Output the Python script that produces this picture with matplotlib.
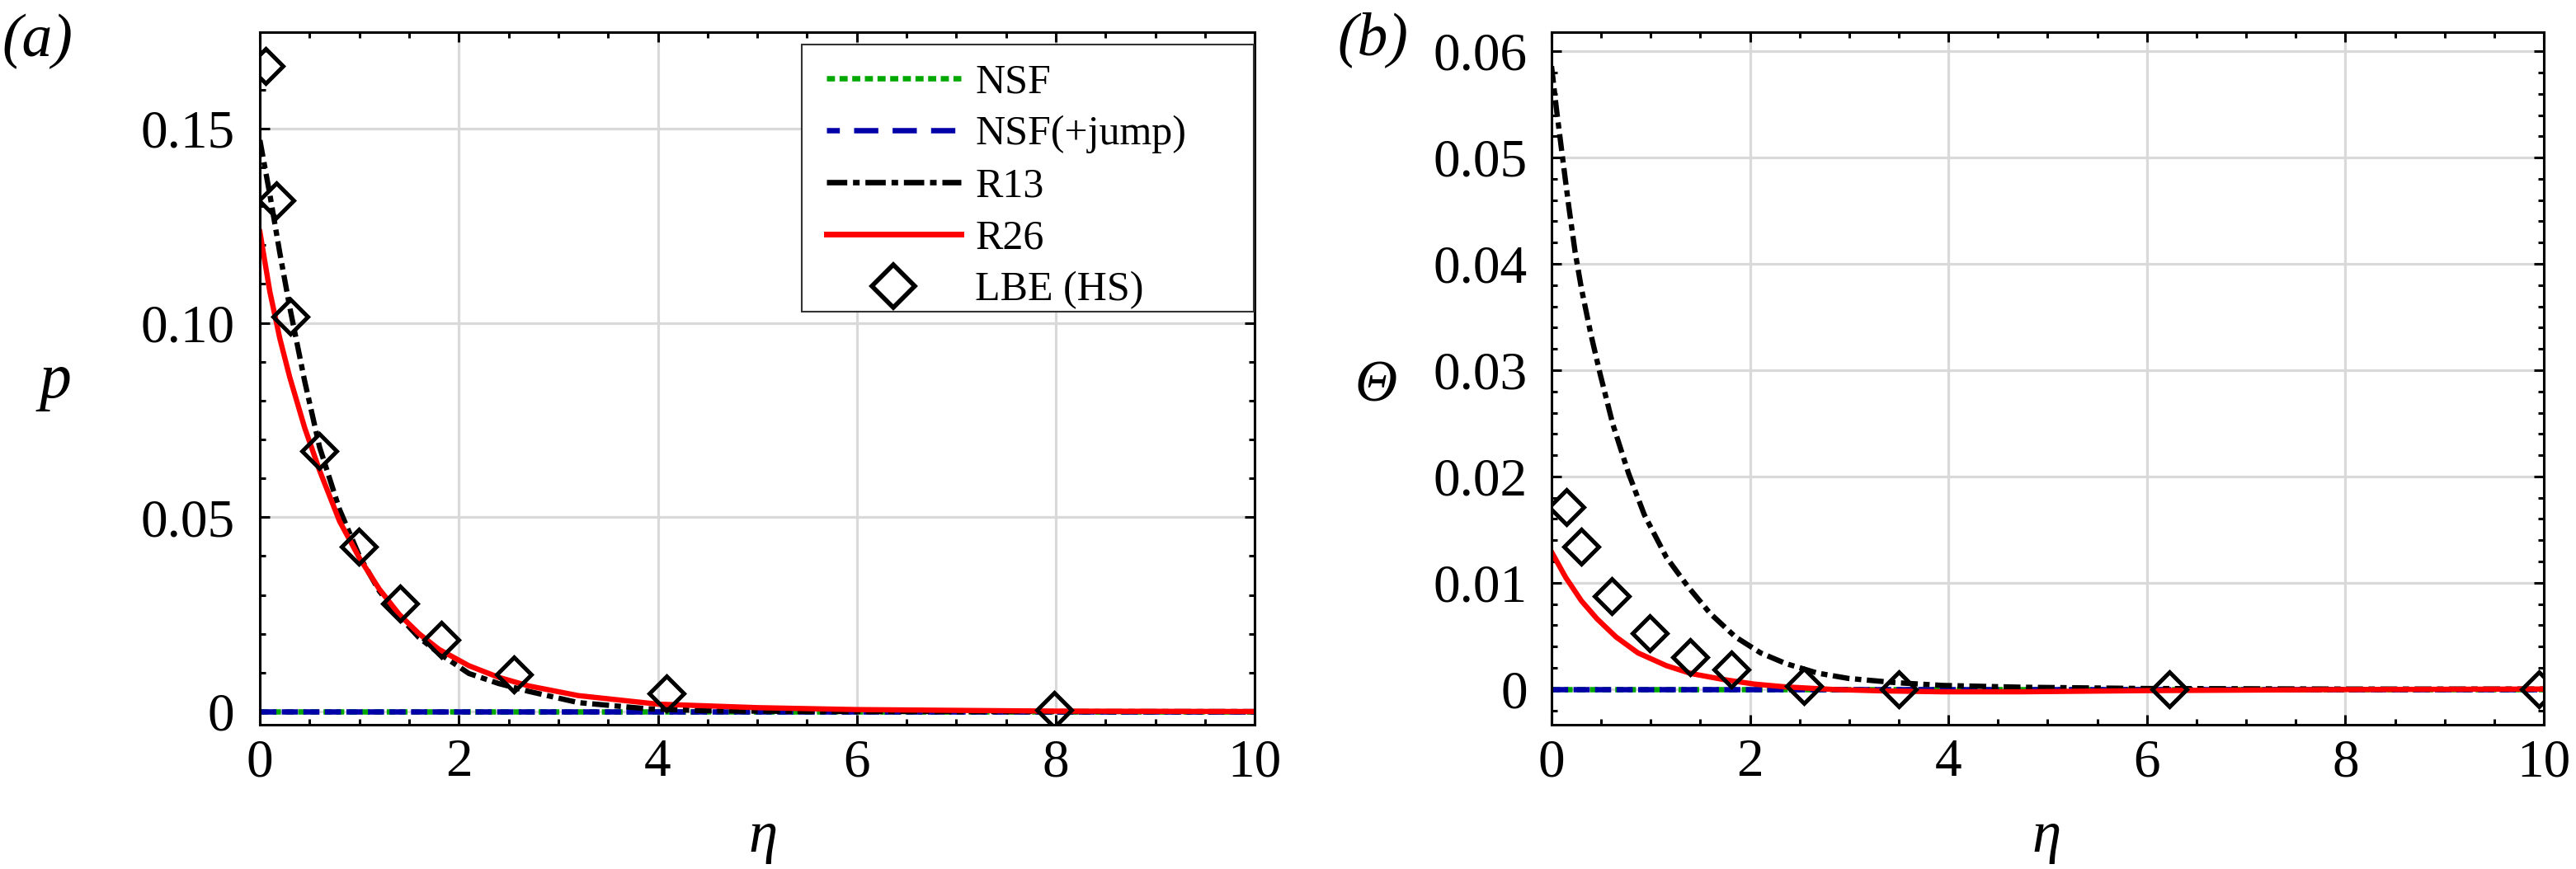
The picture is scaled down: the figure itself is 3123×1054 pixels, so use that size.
import matplotlib
matplotlib.use('Agg')
import matplotlib.pyplot as plt
from matplotlib.ticker import MultipleLocator, FuncFormatter
from matplotlib.patches import Rectangle
from matplotlib.lines import Line2D
from matplotlib.legend_handler import HandlerLine2D

plt.rcParams['font.family'] = ['Liberation Serif', 'DejaVu Serif']

# ---------------- data ----------------
# zero-valued NSF solutions
nsf_eta = [0, 10]
nsf_val = [0, 0]

# (a) pressure p
r13_eta_a = [0, 0.1, 0.2, 0.3, 0.45, 0.6, 0.8, 1.0, 1.2, 1.4, 1.6, 1.8, 2.1, 2.4, 2.7, 3.2, 3.9, 4.5, 5.5, 10]
r13_p_a = [0.147, 0.133, 0.118, 0.104, 0.085, 0.068, 0.052, 0.040, 0.031, 0.0245, 0.019, 0.0150,
           0.0098, 0.0072, 0.0052, 0.0023, 0.0007, 0.0002, 0.0, 0.0]
r26_eta_a = [0, 0.1, 0.2, 0.3, 0.45, 0.6, 0.8, 1.0, 1.2, 1.4, 1.6, 1.8, 2.1, 2.4, 2.7, 3.2, 4.0, 5.0, 6.0, 7.0, 8.0, 10]
r26_p_a = [0.1234, 0.108, 0.096, 0.086, 0.073, 0.062, 0.049, 0.0395, 0.0315, 0.0250, 0.020, 0.0160,
           0.0118, 0.0088, 0.0066, 0.0041, 0.0019, 0.0010, 0.0005, 0.0003, 0.0001, 0.0]
lbe_eta_a = [0.055, 0.163, 0.31, 0.60, 0.99, 1.41, 1.82, 2.55, 4.09, 7.98]
lbe_p_a = [0.1661, 0.1316, 0.1016, 0.0671, 0.0424, 0.0278, 0.0185, 0.0096, 0.0047, 0.0004]

# (b) temperature Theta
r13_eta_b = [0, 0.048, 0.111, 0.174, 0.238, 0.301, 0.396, 0.491, 0.618, 0.776, 0.935, 1.157, 1.378,
             1.60, 1.854, 2.107, 2.36, 2.68, 2.99, 3.47, 3.94, 4.74, 6.0, 8.0, 10]
r13_t_b = [0.0586, 0.0547, 0.0500, 0.0454, 0.0411, 0.0377, 0.0334, 0.0296, 0.0249, 0.0203, 0.0164,
           0.0124, 0.0096, 0.0071, 0.0049, 0.0034, 0.0024, 0.0015, 0.0010, 0.0006, 0.00034, 0.00017,
           0.00005, 0.0, 0.0]
r26_eta_b = [0, 0.143, 0.301, 0.459, 0.65, 0.871, 1.157, 1.41, 1.73, 2.04, 2.36, 2.84, 3.31, 3.94,
             4.74, 6.0, 8.0, 10]
r26_t_b = [0.0129, 0.0105, 0.0083, 0.0066, 0.0049, 0.0034, 0.0022, 0.00145, 0.0009, 0.00047, 0.0002,
           -0.00004, -0.00017, -0.00026, -0.00026, -0.00015, -0.00005, 0.0]
lbe_eta_b = [0.15, 0.301, 0.608, 0.989, 1.40, 1.81, 2.54, 3.50, 6.23, 9.95]
lbe_t_b = [0.01715, 0.0134, 0.00872, 0.00523, 0.00302, 0.00187, 0.00026, 0.0, 0.0, 0.0]

x_ticks = [0, 2, 4, 6, 8, 10]
labels = ['NSF', 'NSF(+jump)', 'R13', 'R26', 'LBE (HS)']

# ---------------- styles ----------------
GREEN = '#00a800'
BLUE = '#0000a8'
RED = '#ff0000'
MS = 21.5
MEW = 3.6

fig = plt.figure(figsize=(31.23, 10.54), dpi=100)
axL = fig.add_axes([0.1009, 0.1660, 0.3862, 0.7970])
axR = fig.add_axes([0.6023, 0.1660, 0.3852, 0.7970])

TICK_FS = 47


def fmt(v, pos):
    if abs(v) < 1e-12:
        return '0'
    return f'{v:.2f}'


def style(ax, ymaj, ymin, ylim, ypad):
    ax.set_xlim(0, 10)
    ax.set_ylim(*ylim)
    ax.set_xticks(x_ticks)
    ax.xaxis.set_minor_locator(MultipleLocator(0.5))
    ax.yaxis.set_major_locator(MultipleLocator(ymaj))
    ax.yaxis.set_minor_locator(MultipleLocator(ymin))
    ax.yaxis.set_major_formatter(FuncFormatter(fmt))
    ax.tick_params(which='both', direction='in', top=True, right=True, width=2.2, colors='black')
    ax.tick_params(which='major', length=8.6)
    ax.tick_params(which='minor', length=5)
    ax.tick_params(axis='x', which='major', labelsize=TICK_FS, pad=12)
    ax.tick_params(axis='y', which='major', labelsize=TICK_FS, pad=ypad)
    for s in ax.spines.values():
        s.set_linewidth(2.2)
    ax.grid(True, which='major', color='#d9d9d9', lw=2.3)
    ax.set_axisbelow(True)


def draw(ax, r13x, r13y, r26x, r26y, lx, ly):
    ax.plot(nsf_eta, nsf_val, color=GREEN, lw=4.7, ls=(0, (1.5, 0.85)))
    ax.plot(nsf_eta, nsf_val, color=BLUE, lw=4.7, ls=(0, (3.0, 1.0)))
    ax.plot(r13x, r13y, color='black', lw=4.6, ls=(0, (3.2, 1.05, 1.2, 1.05)))
    ax.plot(r26x, r26y, color=RED, lw=4.6)
    ax.plot(lx, ly, ls='none', marker='D', ms=MS, mfc='none', mec='black', mew=MEW)


style(axL, 0.05, 0.01, (-0.0034, 0.1748), 22)
style(axR, 0.01, 0.002, (-0.00336, 0.0618), 21)

draw(axL, r13_eta_a, r13_p_a, r26_eta_a, r26_p_a, lbe_eta_a, lbe_p_a)
draw(axR, r13_eta_b, r13_t_b, r26_eta_b, r26_t_b, lbe_eta_b, lbe_t_b)

# legend proxies (legend dash patterns differ slightly from the plotted ones)
proxies = [
    Line2D([], [], color=GREEN, lw=4.7, ls=(0, (1.5, 0.85))),
    Line2D([], [], color=BLUE, lw=4.7, ls=(2.1, (4.5, 2.65))),
    Line2D([], [], color='black', lw=4.8, ls=(0, (3.7, 1.05, 1.2, 1.05))),
    Line2D([], [], color=RED, lw=5.0),
    Line2D([], [], ls='none', marker='D', ms=MS * 1.22, mfc='none', mec='black', mew=MEW + 0.4),
]


class LeftMarker(HandlerLine2D):
    def get_xdata(self, legend, xdescent, ydescent, width, height, fontsize):
        xd, xm = super().get_xdata(legend, xdescent, ydescent, width, height, fontsize)
        return xd, [-xdescent + 0.18 * width]


# legend frame (drawn separately so its padding can match the reference)
frame = Rectangle((0.5448, 0.5964), 0.9992 - 0.5448, 0.9821 - 0.5964, transform=axL.transAxes,
                  facecolor='white', edgecolor='#333333', lw=1.5, zorder=4)
axL.add_patch(frame)
leg = axL.legend(proxies, labels, loc='upper left', bbox_to_anchor=(0.5697, 0.955),
                 frameon=False, fontsize=36, handlelength=3.25, handletextpad=0.35,
                 labelspacing=0.33, borderpad=0, borderaxespad=0,
                 handler_map={proxies[4]: LeftMarker(numpoints=1)})
leg.set_zorder(5)

# labels
LAB_FS = 51
fig.text(0.0144, 0.9355, '(a)', fontsize=53, style='italic', ha='center', va='baseline')
fig.text(0.5328, 0.937, '(b)', fontsize=53, style='italic', ha='center', va='baseline')
fig.text(0.0215, 0.5427, 'p', fontsize=56, style='italic', ha='center', va='baseline')
fig.text(0.534, 0.538, 'Θ', fontsize=LAB_FS, style='italic', ha='center', va='baseline')
fig.text(0.2962, 0.0200, 'η', fontsize=LAB_FS, style='italic', ha='center', va='baseline')
fig.text(0.7944, 0.0200, 'η', fontsize=LAB_FS, style='italic', ha='center', va='baseline')

fig.savefig('out.png', dpi=100)
